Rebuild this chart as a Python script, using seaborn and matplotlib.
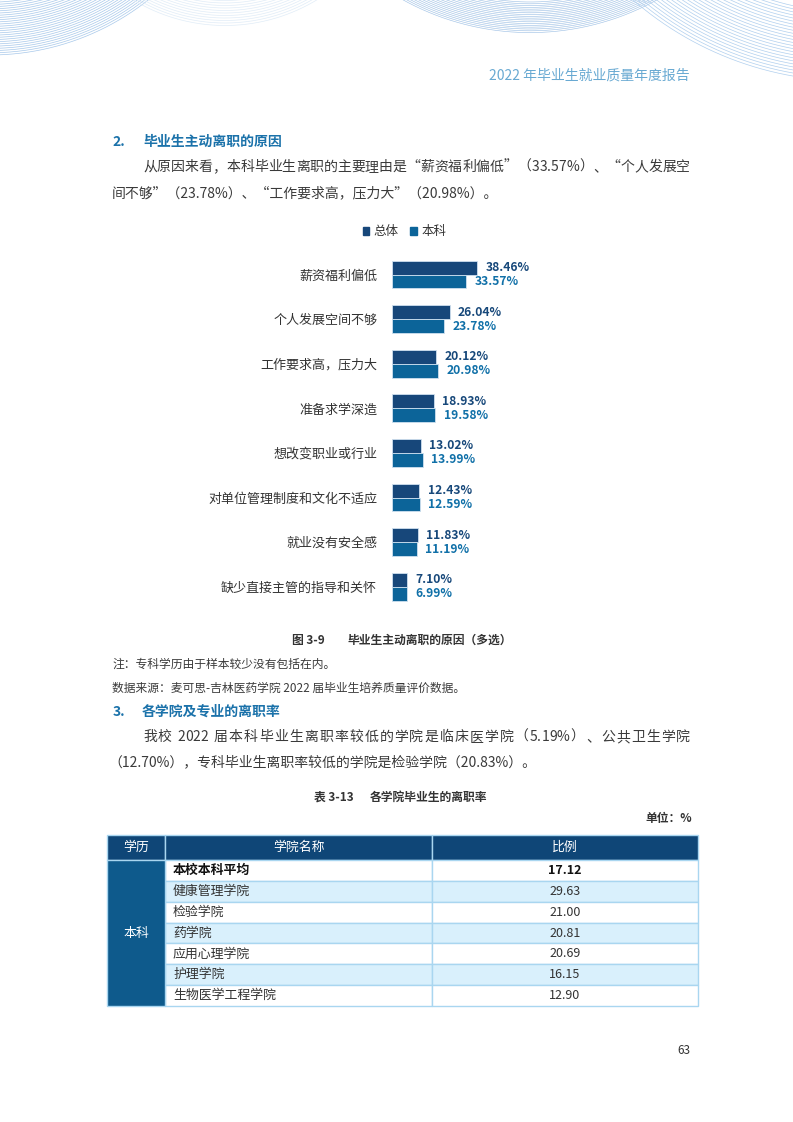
import numpy as np
import pandas as pd
import matplotlib
matplotlib.use('Agg')
import matplotlib.pyplot as plt
import seaborn as sns
from matplotlib.patches import Rectangle, Patch
from matplotlib.font_manager import FontProperties, findfont, get_font

# 图 3-9 数据
reasons = ['薪资福利偏低', '个人发展空间不够', '工作要求高，压力大', '准备求学深造',
           '想改变职业或行业', '对单位管理制度和文化不适应', '就业没有安全感', '缺少直接主管的指导和关怀']
overall = [38.46, 26.04, 20.12, 18.93, 13.02, 12.43, 11.83, 7.10]
undergrad = [33.57, 23.78, 20.98, 19.58, 13.99, 12.59, 11.19, 6.99]
series_names = ['总体', '本科']

# 表 3-13 数据
table_header = ['学历', '学院名称', '比例']
degree = '本科'
colleges = ['本校本科平均', '健康管理学院', '检验学院', '药学院', '应用心理学院', '护理学院', '生物医学工程学院']
rates = [17.12, 29.63, 21.00, 20.81, 20.69, 16.15, 12.90]

sns.set_style('white')
plt.rcParams['font.family'] = ['Noto Sans CJK SC', 'DejaVu Sans']

W, H = 793, 1122
DARK = '#17477a'
BLUE = '#0c6499'
TXT = '#3a3a3a'
HEAD_BLUE = '#1b72aa'
BODY = 10

fig = plt.figure(figsize=(W / 100, H / 100), dpi=100)
bg = fig.add_axes([0, 0, 1, 1])
bg.set_xlim(0, W)
bg.set_ylim(H, 0)
bg.axis('off')


def justify(x0, x1, y, s, size=BODY, color=TXT):
    # 两端对齐：西文字符之间不加间距，其余字间平均分配
    font = get_font(findfont(FontProperties(family='Noto Sans CJK SC', size=size)))
    font.set_size(size, 100)
    adv = [font.load_char(ord(c)).linearHoriAdvance / 65536 for c in s]
    tight = [s[k].isascii() and s[k] != ' ' and s[k + 1].isascii() and s[k + 1] != ' '
             for k in range(len(s) - 1)]
    n_gaps = sum(1 for g in tight if not g)
    extra = (x1 - x0 - sum(adv)) / n_gaps
    x = x0
    for k, (c, a) in enumerate(zip(s, adv)):
        if c != ' ':
            bg.text(x, y, c, fontsize=size, color=color, va='center')
        x += a
        if k < len(tight) and not tight[k]:
            x += extra


# 页眉波浪线
t = np.linspace(0, 2 * np.pi, 1500)
for r in np.arange(200, 256, 2.2):
    bg.plot(-10 + r * np.cos(t), -200 + r * np.sin(t), color='#a7c8ea', lw=0.5)
for r in np.arange(150, 178, 2.5):
    bg.plot(225 + r * np.cos(t), -152 + r * np.sin(t), color='#e0ecf7', lw=0.5)
for r in np.arange(232, 263, 1.8):
    bg.plot(530 + r * np.cos(t), -230 + r * np.sin(t), color='#a2c3e6', lw=0.45)
for r in np.arange(262, 333, 3):
    bg.plot(850 + r * np.cos(t), -250 + r * np.sin(t), color='#b0cfee', lw=0.5)

bg.text(690, 76, '2022 年毕业生就业质量年度报告', fontsize=10, color='#68a9d2', ha='right', va='center')

# 正文
bg.text(112, 142, '2.', fontsize=10, color=HEAD_BLUE, fontweight='bold', va='center')
bg.text(143, 142, '毕业生主动离职的原因', fontsize=10, color=HEAD_BLUE, fontweight='bold', va='center')
justify(143, 690, 167, '从原因来看，本科毕业生离职的主要理由是“薪资福利偏低”（33.57%）、“个人发展空')
bg.text(112, 193, '间不够”（23.78%）、“工作要求高，压力大”（20.98%）。', fontsize=BODY, color=TXT, va='center')

# 条形图
x0 = 391.7
px_per = 2.22
xmax = 50
y_first, step = 274.5, 44.6
top = y_first - step / 2
bottom = y_first + 7.5 * step
ax = fig.add_axes([x0 / W, 1 - bottom / H, xmax * px_per / W, (bottom - top) / H])

df = pd.DataFrame({
    '原因': reasons * 2,
    '类别': [series_names[0]] * len(reasons) + [series_names[1]] * len(reasons),
    '比例': overall + undergrad,
})
sns.barplot(data=df, y='原因', x='比例', hue='类别', palette=[DARK, BLUE], width=0.62,
            orient='h', ax=ax, edgecolor='#cfe0ef', linewidth=0.6, saturation=1, legend=False)
ax.set_xlim(0, xmax)
ax.set_ylim(7.5, -0.5)

label_colors = ['#17487a', '#1070a8']
for cont, vals, c in zip(ax.containers, [overall, undergrad], label_colors):
    ax.bar_label(cont, labels=[f'{v:.2f}%' for v in vals], padding=6, fontsize=8.7,
                 fontweight='bold', color=c)

ax.set_xlabel('')
ax.set_ylabel('')
ax.set_xticks([])
ax.tick_params(axis='y', length=0, pad=10.5, labelsize=9.4, labelcolor='#333333')
sns.despine(ax=ax, left=True, bottom=True)
ax.patch.set_alpha(0)

handles = [Patch(color=DARK), Patch(color=BLUE)]
fig.legend(handles, series_names, loc='center', bbox_to_anchor=(404.5 / W, 1 - 231.7 / H), ncol=2,
           frameon=False, fontsize=9, handlelength=0.55, handleheight=0.55,
           handletextpad=0.35, columnspacing=0.9, labelcolor='#333333')

# 图注
bg.text(292, 640, '图 3-9', fontsize=8.5, fontweight='bold', color='#333333', va='center')
bg.text(347, 640, '毕业生主动离职的原因（多选）', fontsize=8.5, fontweight='bold', color='#333333', va='center')
bg.text(112, 664, '注：专科学历由于样本较少没有包括在内。', fontsize=8.5, color=TXT, va='center')
bg.text(112, 688, '数据来源：麦可思-吉林医药学院 2022 届毕业生培养质量评价数据。', fontsize=8.5, color=TXT, va='center')

bg.text(113, 712, '3.', fontsize=10, color=HEAD_BLUE, fontweight='bold', va='center')
bg.text(142, 712, '各学院及专业的离职率', fontsize=10, color=HEAD_BLUE, fontweight='bold', va='center')
justify(143, 690, 737, '我校 2022 届本科毕业生离职率较低的学院是临床医学院（5.19%）、公共卫生学院')
bg.text(108, 762, '（12.70%），专科毕业生离职率较低的学院是检验学院（20.83%）。', fontsize=BODY, color=TXT, va='center')

bg.text(314, 797, '表 3-13', fontsize=8.5, fontweight='bold', color='#333333', va='center')
bg.text(370, 797, '各学院毕业生的离职率', fontsize=8.5, fontweight='bold', color='#333333', va='center')
bg.text(692, 818, '单位：%', fontsize=8.5, fontweight='bold', color='#333333', va='center', ha='right')

# 表格
cols = [107, 165, 432, 698]
head_top, head_bot = 835, 860
row_h = (1006 - 860) / len(colleges)
grid = '#a9d6f0'

for i, name in enumerate(table_header):
    bg.add_patch(Rectangle((cols[i], head_top), cols[i + 1] - cols[i], head_bot - head_top,
                           facecolor='#0f4677', edgecolor=grid, lw=1))
    bg.text((cols[i] + cols[i + 1]) / 2, (head_top + head_bot) / 2, name, fontsize=9.3,
            color='white', ha='center', va='center')

for j, (name, val) in enumerate(zip(colleges, rates)):
    y = head_bot + j * row_h
    fc = '#d9f0fc' if j % 2 == 1 else 'white'
    for i in (1, 2):
        bg.add_patch(Rectangle((cols[i], y), cols[i + 1] - cols[i], row_h,
                               facecolor=fc, edgecolor=grid, lw=1))
    bold = 'bold' if j == 0 else 'normal'
    color = '#111111' if j == 0 else '#333333'
    bg.text(cols[1] + 8, y + row_h / 2, name, fontsize=9.3, fontweight=bold, color=color, va='center')
    bg.text((cols[2] + cols[3]) / 2, y + row_h / 2, f'{val:.2f}', fontsize=9, fontweight=bold,
            color=color, ha='center', va='center')

bg.add_patch(Rectangle((cols[0], head_bot), cols[1] - cols[0], row_h * len(colleges),
                       facecolor='#0e5a8c', edgecolor=grid, lw=1))
bg.text((cols[0] + cols[1]) / 2, head_bot + row_h * len(colleges) / 2, degree, fontsize=9.3,
        color='white', ha='center', va='center')

bg.text(684, 1050, '63', fontsize=8.5, color='#333333', ha='center', va='center')

fig.savefig('out.png', dpi=100)
